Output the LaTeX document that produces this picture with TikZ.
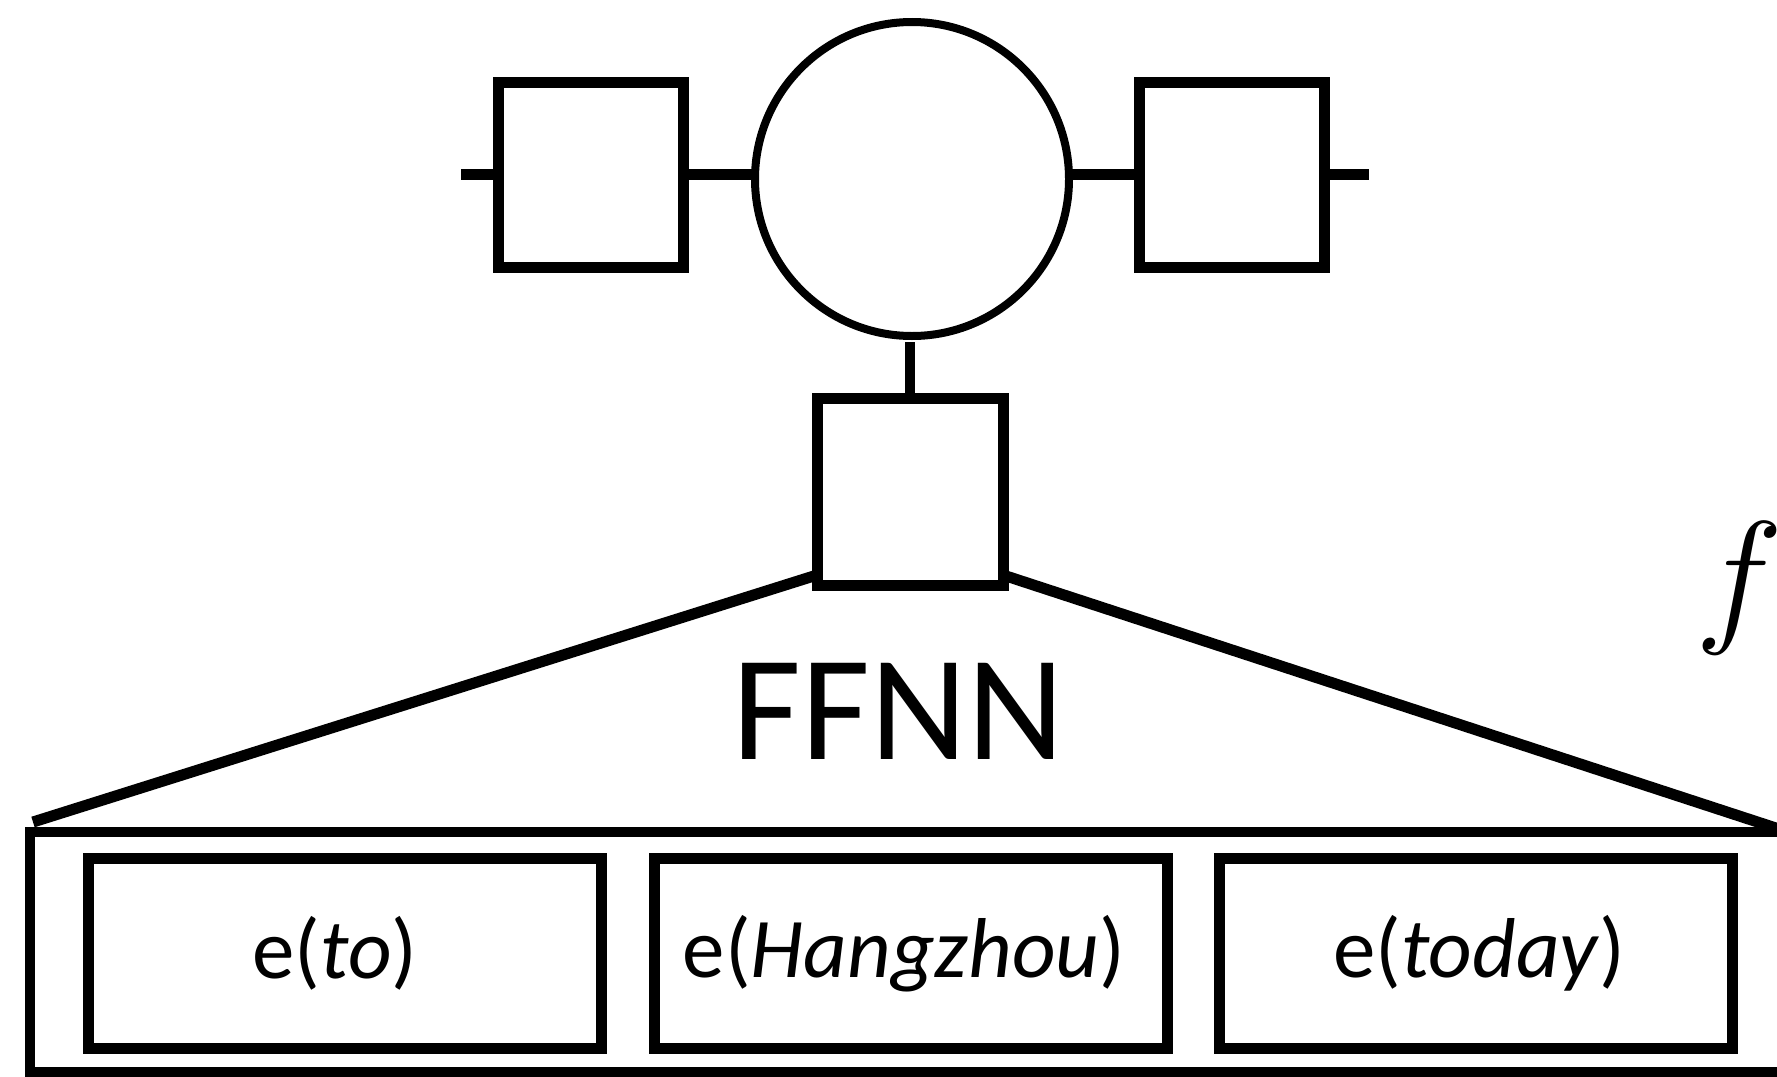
\RequirePackage{fix-cm}
\documentclass[tikz,border=0pt]{standalone}
\usepackage{fontspec}
\newfontfamily\carlito{Carlito}
\begin{document}
\begin{tikzpicture}[x=1pt,y=-1pt,
  sq/.style={draw, line width=11pt, minimum width=185pt, minimum height=185pt, inner sep=0pt, outer sep=0pt},
  emb/.style={draw, line width=11pt, minimum width=513pt, minimum height=190pt, inner sep=0pt, outer sep=0pt, font=\carlito\fontsize{85}{85}\selectfont},
  wire/.style={line width=11pt}]
\useasboundingbox (0,0) rectangle (1777,1076);
% factor graph part
\node[sq] (L) at (590.5,174.5) {};
\node[sq] (R) at (1231.5,174.5) {};
\node[circle, draw, line width=8pt, minimum size=314pt, inner sep=0pt, outer sep=0pt] (C) at (912,179) {};
\node[sq, minimum width=186pt, minimum height=187pt] (B) at (910,491.5) {};
\coordinate (sl) at (461,174.5);
\coordinate (sr) at (1369,174.5);
\draw[wire] (sl) -- (L.west);
\draw[wire] (L.east) -- (L.east -| C.west);
\draw[wire] (R.west -| C.east) -- (R.west);
\draw[wire] (R.east) -- (sr);
\draw[line width=10pt, shorten >=6pt] (B.north) -- (B.north |- C.south);
% FFNN expansion
\node[draw, line width=10pt, minimum width=1770pt, minimum height=240pt, inner sep=0pt, outer sep=0pt] (E) at (915,951.5) {};
\coordinate (tl) at (33,822);
\coordinate (tr) at (1782,830);
\draw[wire] ([yshift=10pt]B.south west) -- (tl);
\draw[wire] ([yshift=10pt]B.south east) -- (tr);
\node[font=\carlito\fontsize{150}{150}\selectfont, inner sep=0pt] (ff) at (898.5,711) {FFNN};
\node[emb] (e1) at (345,953.5) {e(\textit{to})\hspace*{20pt}};
\node[emb] (e2) at (910.5,953.5) {e(\textit{Hangzhou})\hspace*{13pt}};
\node[emb] (e3) at (1475.5,953.5) {\hspace*{8pt}e(\textit{today})};
\node[anchor=base west, inner sep=0pt, font=\fontsize{149}{149}\selectfont] (fl) at (1695,625) {$f$};
\end{tikzpicture}
\end{document}
